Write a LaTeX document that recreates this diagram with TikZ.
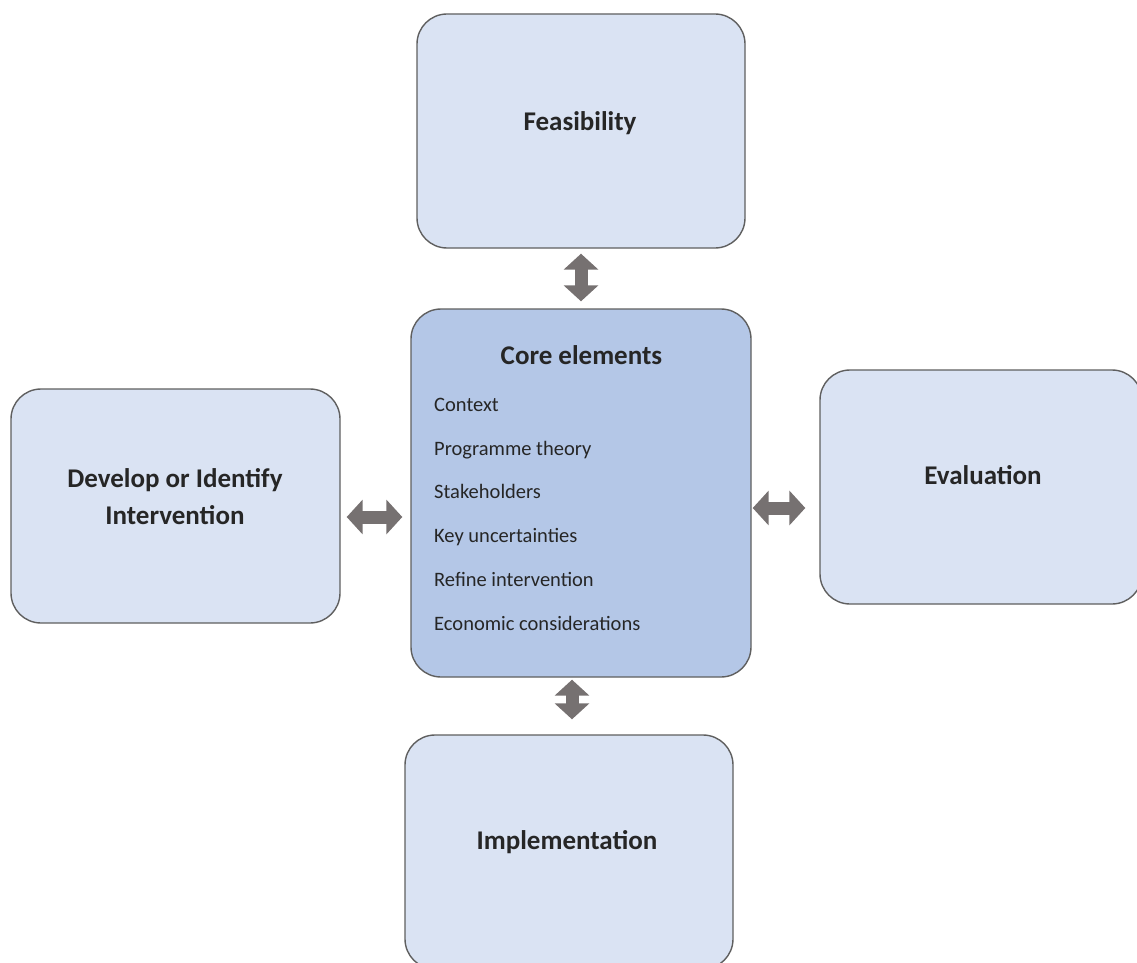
\documentclass[tikz,border=0pt]{standalone}
\usepackage{fontspec}
\setmainfont{Carlito}
\usepackage{tikz}
\usetikzlibrary{arrows.meta,positioning,calc}
\definecolor{BoxFill}{HTML}{DAE3F3}
\definecolor{CoreFill}{HTML}{B4C7E7}
\definecolor{BoxLine}{HTML}{5F5F5F}
\definecolor{ArrowGrey}{HTML}{767171}
\definecolor{TextDark}{HTML}{262626}
\tikzset{
ctxbox/.style={draw=BoxLine, line width=1.4pt, rounded corners=30pt, fill=BoxFill, minimum width=328pt, minimum height=234pt, inner sep=0pt},
ctxcore/.style={ctxbox, fill=CoreFill, minimum width=340pt, minimum height=368pt},
ctxtitle/.style={font=\fontsize{27}{37}\selectfont\bfseries, text=TextDark, align=center, inner sep=0pt},
ctxitem/.style={font=\fontsize{20.5}{24}\selectfont, text=TextDark, anchor=base west, inner sep=0pt},
ctxarrow/.style={line width=13pt, draw=ArrowGrey, {Triangle[length=16pt,width=34pt]}-{Triangle[length=16pt,width=34pt]}}
}
\begin{document}
\begin{tikzpicture}[x=1pt, y=-1pt]
  \useasboundingbox (0,0) rectangle (1137,963);
  \clip (0,0) rectangle (1137,963);
  % boxes
  \node[ctxbox] (feas) at (581,131) {};
  \node[ctxcore] (core) at (581,493) {};
  \node[ctxbox, minimum width=329pt] (dev) at (175.5,506) {};
  \node[ctxbox, minimum width=322pt] (eval) at (981,487) {};
  \node[ctxbox] (impl) at (569,852) {};
  % labels
  \node[ctxtitle, anchor=base] (feaslabel) at (580,130.5) {Feasibility};
  \node[ctxtitle, anchor=base] (corelabel) at (581.5,364) {Core elements};
  \node[ctxtitle] (devlabel) at (175,497) {Develop or Identify\\Intervention};
  \node[ctxtitle, anchor=base] (evallabel) at (983,484) {Evaluation};
  \node[ctxtitle, anchor=base] (impllabel) at (567,849) {Implementation};
  \foreach \txt [count=\i from 0] in {Context, Programme theory, Stakeholders, Key uncertainties, Refine intervention, Economic considerations}
    \node[ctxitem] (item\i) at (434,411.5+43.7*\i) {\txt};
  % connectors
  \draw[ctxarrow, shorten <=5pt, shorten >=7pt] (feas.south) -- (core.north);
  \draw[ctxarrow, shorten <=6pt, shorten >=8pt] ([yshift=-11pt]dev.east) -- ([yshift=-11pt]dev.east -| core.west);
  \draw[ctxarrow, shorten <=1pt, shorten >=14pt] ([yshift=-15pt]core.east) -- ([yshift=-15pt]core.east -| eval.west);
  \draw[ctxarrow, shorten <=2pt, shorten >=15pt] ([xshift=-9pt]core.south) -- ([xshift=-9pt]core.south |- impl.north);
\end{tikzpicture}
\end{document}
